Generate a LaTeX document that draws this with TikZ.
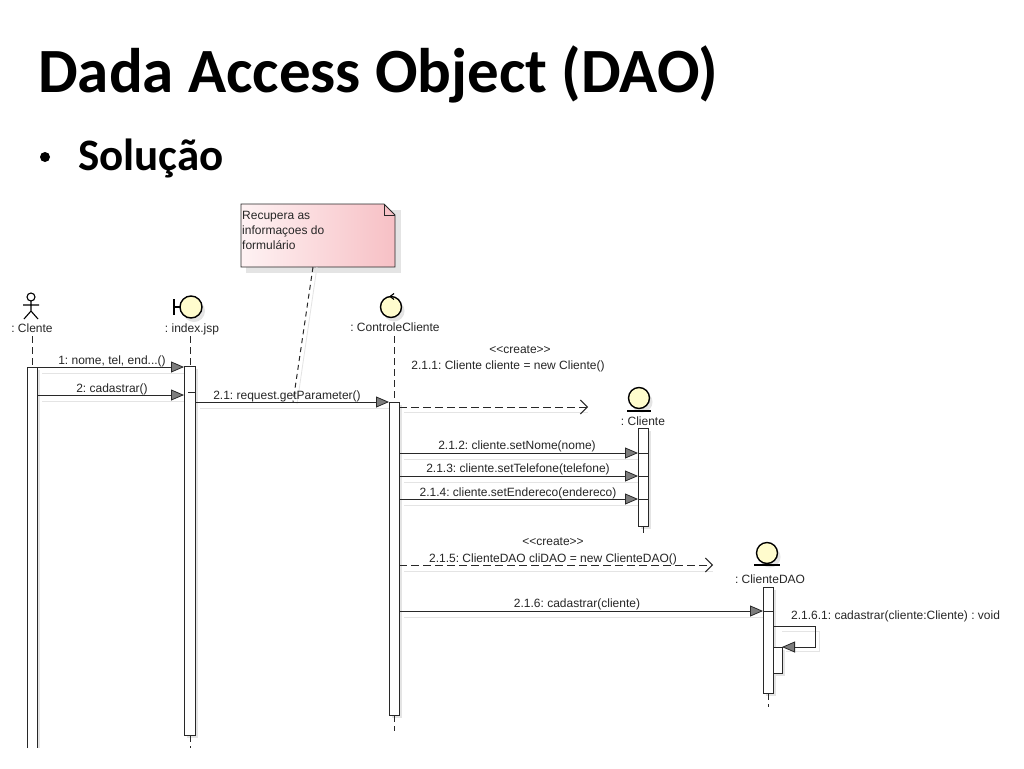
\documentclass[tikz,border=0pt]{standalone}
\usepackage{fontspec}
\setmainfont{Carlito}
\newfontfamily\uml{Liberation Sans}
\usetikzlibrary{arrows.meta}
\definecolor{iconfill}{RGB}{255,252,205}
\definecolor{notepink}{RGB}{247,192,197}
\definecolor{notelight}{RGB}{254,242,243}
\definecolor{linec}{RGB}{40,40,40}
\definecolor{headfill}{RGB}{125,125,125}
\definecolor{shadowc}{RGB}{228,228,228}
\begin{document}
\begin{tikzpicture}[x=1pt,y=-1pt,
  lbl/.style={font=\uml\fontsize{12}{15}\selectfont\frenchspacing, inner sep=0pt, text=black!85, anchor=base},
  lblw/.style={lbl, anchor=base west},
  lifeline/.style={draw=linec, line width=0.8pt, dash pattern=on 7pt off 4pt},
  actbox/.style={draw=linec, fill=white, line width=0.8pt},
  boxshadow/.style={fill=shadowc, draw=none},
  msg/.style={draw=linec, line width=0.8pt, -{Triangle[length=13pt,width=11pt,fill=headfill]}},
  msgshadow/.style={draw=shadowc, line width=1pt},
  createmsg/.style={draw=linec, line width=0.8pt, dash pattern=on 8pt off 4pt, -{Straight Barb[length=7pt,width=14pt,line width=1pt]}},
  icon/.style={draw=black, fill=iconfill, line width=1.4pt},
  titletext/.style={font=\bfseries\fontsize{63}{70}\selectfont, inner sep=0pt, anchor=base west},
  bullettext/.style={font=\bfseries\fontsize{45}{50}\selectfont, inner sep=0pt, anchor=base west},
  bulletdot/.style={circle, fill=black, inner sep=0pt, minimum size=10pt},
]
\useasboundingbox (0,0) rectangle (1024,768);
\fill[white] (0,0) rectangle (1024,768);

% ---------- title ----------
\node[titletext] (title) at (38,92) {Dada Access Object (DAO)};
\node[bulletdot] (bullet) at (45,157) {};
\node[bullettext] (solucao) at (78,170) {Solução};

% ---------- note ----------
\fill[shadowc] (246,210) rectangle (401,273);
\shade[left color=notelight, right color=notepink]
  (241,204) -- (384,204) -- (395,215) -- (395,267) -- (241,267) -- cycle;
\draw[linec, line width=0.8pt]
  (241,204) -- (384,204) -- (395,215) -- (395,267) -- (241,267) -- cycle;
\draw[linec, line width=0.8pt] (384,204) -- (384,215) -- (395,215);
\node[lblw] (note1) at (242,219) {Recupera as};
\node[lblw] (note2) at (242,234) {informaçoes do};
\node[lblw] (note3) at (242,249) {formulário};
\coordinate (notefoot) at (313,267);
\coordinate (noteend) at (293,402);
\draw[draw=shadowc, line width=0.8pt] (317,267) -- (297,404);
\draw[linec, line width=1pt, dash pattern=on 5pt off 4pt] (notefoot) -- (noteend);

% ---------- lifeline: Cliente (actor) ----------
\draw[black, line width=1.1pt] (31,297) circle (4);
\draw[black, line width=1.1pt] (31,301) -- (31,311)
  (23,305) -- (39,305)
  (31,311) -- (24,319) (31,311) -- (38,319);
\node[lbl] (lblCliente) at (32,332) {: Clente};
\draw[lifeline] (32,336) -- (32,367);
\fill[boxshadow] (30,370) rectangle (40,748);
\draw[actbox] (27,748) -- (27,367) -- (37,367) -- (37,748);

% ---------- lifeline: index.jsp (boundary) ----------
\fill[shadowc] (194,311) circle (11);
\draw[icon] (191,307) circle (11);
\draw[black, line width=1.4pt] (174,299) -- (174,315) (174,307) -- (180,307);
\node[lbl] (lblIndex) at (192,332) {: index.jsp};
\draw[lifeline] (190,336) -- (190,366);
\fill[boxshadow] (187,369) rectangle (198,738);
\draw[actbox] (184,366) rectangle (195,735);
\draw[linec, line width=0.8pt] (188,392) -- (195,392);
\draw[lifeline] (190,735) -- (190,748);

% ---------- lifeline: ControleCliente (control) ----------
\fill[shadowc] (394,311) circle (10.5);
\draw[icon] (391,307) circle (10.5);
\draw[black, line width=1.1pt] (394,293.5) -- (390,296.5) -- (394,299.5);
\node[lbl] (lblControle) at (395,331) {: ControleCliente};
\draw[lifeline] (394,336) -- (394,402);
\fill[boxshadow] (392,405) rectangle (402,718);
\draw[actbox] (389,402) rectangle (399,715);
\draw[lifeline] (394,715) -- (394,731);

% ---------- lifeline: Cliente (entity) ----------
\fill[shadowc] (642,402) circle (10.5);
\draw[icon] (639,398) circle (10.5);
\draw[black, line width=1.4pt] (627,411) -- (651,411);
\node[lbl] (lblEnt) at (643,425) {: Cliente};
\fill[boxshadow] (641,431) rectangle (651,529);
\draw[actbox] (638,428) rectangle (648,526);
\draw[linec, line width=0.8pt] (638,453) -- (648,453) (638,476) -- (648,476) (638,499) -- (648,499);
\draw[lifeline] (643,526) -- (643,536);

% ---------- lifeline: ClienteDAO (entity) ----------
\fill[shadowc] (770,557) circle (10.5);
\draw[icon] (767,553) circle (10.5);
\draw[black, line width=1.4pt] (754,565) -- (780,565);
\node[lbl] (lblDAO) at (770,583) {: ClienteDAO};
\fill[boxshadow] (766,590) rectangle (776,696);
\draw[actbox] (763,587) rectangle (773,693);
\draw[linec, line width=0.8pt] (763,611) -- (773,611);
\fill[boxshadow] (776,650) rectangle (785,676);
\draw[actbox] (773,647) rectangle (782,673);
\draw[lifeline] (768,693) -- (768,707);

% ---------- message end points ----------
\coordinate (m1s) at (37,367);   \coordinate (m1e) at (184,367);
\coordinate (m2s) at (37,395);   \coordinate (m2e) at (184,395);
\coordinate (m3s) at (195,402);  \coordinate (m3e) at (389,402);
\coordinate (c1s) at (399,407);  \coordinate (c1e) at (588,407);
\coordinate (m4s) at (399,453);  \coordinate (m4e) at (638,453);
\coordinate (m5s) at (399,476);  \coordinate (m5e) at (638,476);
\coordinate (m6s) at (399,499);  \coordinate (m6e) at (638,499);
\coordinate (c2s) at (399,565);  \coordinate (c2e) at (713,565);
\coordinate (m7s) at (399,611);  \coordinate (m7e) at (763,611);
\coordinate (s1s) at (773,626);  \coordinate (s1a) at (815,626);
\coordinate (s1b) at (815,647);  \coordinate (s1e) at (782,647);

% ---------- message shadows ----------
\draw[msgshadow] (42,373) -- (184,373) (42,401) -- (184,401) (200,408) -- (389,408)
  (404,412) -- (588,412) (404,459) -- (638,459) (404,482) -- (638,482) (404,505) -- (638,505)
  (404,571) -- (713,571) (404,617) -- (763,617) (782,631) -- (819,631) -- (819,651) -- (786,651);

% ---------- messages ----------
\draw[msg] (m1s) -- (m1e);
\node[lbl] (t1) at (112,364) {1: nome, tel, end...()};
\draw[msg] (m2s) -- (m2e);
\node[lbl] (t2) at (112,392) {2: cadastrar()};
\draw[msg] (m3s) -- (m3e);
\node[lbl] (t3) at (287,399) {2.1: request.getParameter()};

\draw[createmsg] (c1s) -- (c1e);
\node[lbl] (c1st) at (520,353) {<{}<create>{}>};
\node[lbl] (c1t) at (508,369) {2.1.1: Cliente cliente = new Cliente()};

\draw[msg] (m4s) -- (m4e);
\node[lbl] (t4) at (517,449) {2.1.2: cliente.setNome(nome)};
\draw[msg] (m5s) -- (m5e);
\node[lbl] (t5) at (518,472) {2.1.3: cliente.setTelefone(telefone)};
\draw[msg] (m6s) -- (m6e);
\node[lbl] (t6) at (518,496) {2.1.4: cliente.setEndereco(endereco)};

\draw[createmsg] (c2s) -- (c2e);
\node[lbl] (c2st) at (553,545) {<{}<create>{}>};
\node[lbl] (c2t) at (553,562) {2.1.5: ClienteDAO cliDAO = new ClienteDAO()};

\draw[msg] (m7s) -- (m7e);
\node[lbl] (t7) at (577,607) {2.1.6: cadastrar(cliente)};

\draw[msg] (s1s) -- (s1a) -- (s1b) -- (s1e);
\node[lblw] (t8) at (791,619) {2.1.6.1: cadastrar(cliente:Cliente) : void};
\end{tikzpicture}
\end{document}
